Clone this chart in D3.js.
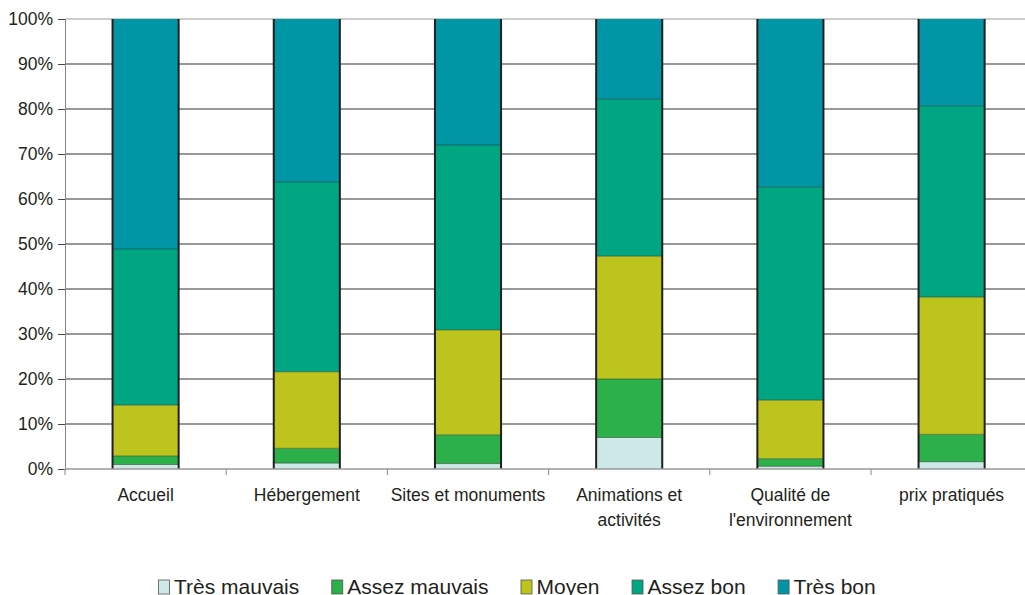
<!DOCTYPE html>
<html>
<head>
<meta charset="utf-8">
<script src="https://cdn.jsdelivr.net/npm/d3@7"></script>
<style>
	body { margin: 0; background: #fff; overflow: hidden; }
	text { font-family: "Liberation Sans", Arial, sans-serif; fill: #231f20; }
</style>
</head>
<body>
<div id="chart"></div>
<script>
// categories and series (percent of answers)
var categories = ["Accueil", "Hébergement", "Sites et monuments", "Animations et activités", "Qualité de l'environnement", "prix pratiqués"];
var categoryLines = [["Accueil"], ["Hébergement"], ["Sites et monuments"], ["Animations et", "activités"], ["Qualité de", "l'environnement"], ["prix pratiqués"]];
var seriesNames = ["Très mauvais", "Assez mauvais", "Moyen", "Assez bon", "Très bon"];
var seriesColors = ["#cce9e8", "#2bb04a", "#bdc41e", "#00a582", "#0096a6"];
var tresMauvais = [1.0, 1.3, 1.2, 7.0, 0.6, 1.6];
var assezMauvais = [1.9, 3.3, 6.4, 13.0, 1.7, 6.1];
var moyen = [11.3, 17.0, 23.3, 27.3, 13.0, 30.5];
var assezBon = [34.7, 42.2, 41.1, 34.9, 47.4, 42.5];
var tresBon = [51.1, 36.2, 28.0, 17.8, 37.3, 19.3];
var yTicks = [0, 10, 20, 30, 40, 50, 60, 70, 80, 90, 100];

var width = 1025, height = 595;
var margin = { left: 65, top: 19, bottom: 469 };

var rows = categories.map(function (c, i) {
	var total = tresMauvais[i] + assezMauvais[i] + moyen[i] + assezBon[i] + tresBon[i];
	return {
		cat: c,
		s0: tresMauvais[i] / total * 100,
		s1: assezMauvais[i] / total * 100,
		s2: moyen[i] / total * 100,
		s3: assezBon[i] / total * 100,
		s4: tresBon[i] / total * 100
	};
});
var stack = d3.stack().keys(["s0", "s1", "s2", "s3", "s4"])(rows);

var svg = d3.select("#chart").append("svg")
	.attr("width", width)
	.attr("height", height);

var x = d3.scaleBand().domain(categories).range([margin.left, margin.left + 6 * 161.2]).paddingInner(0.59).paddingOuter(0.295);
var y = d3.scaleLinear().domain([0, 100]).range([margin.bottom, margin.top]);

// gridlines
svg.append("g").selectAll("line").data(yTicks.slice(1)).enter().append("line")
	.attr("x1", margin.left).attr("x2", width)
	.attr("y1", function (d) { return y(d); }).attr("y2", function (d) { return y(d); })
	.attr("stroke", function (d) { return d == 100 ? "#999" : "#333"; })
	.attr("stroke-width", 1);

// bars
var layer = svg.append("g").selectAll("g").data(stack).enter().append("g")
	.attr("fill", function (d, i) { return seriesColors[i]; });
layer.selectAll("rect").data(function (d) { return d; }).enter().append("rect")
	.attr("x", function (d) { return x(d.data.cat); })
	.attr("y", function (d) { return y(d[1]); })
	.attr("width", x.bandwidth())
	.attr("height", function (d) { return y(d[0]) - y(d[1]); });

// dark bar sides and segment separators
var outline = svg.append("g");
categories.forEach(function (c) {
	[x(c), x(c) + x.bandwidth()].forEach(function (xx) {
		outline.append("line").attr("x1", xx).attr("x2", xx)
			.attr("y1", y(100)).attr("y2", y(0))
			.attr("stroke", "#231f20").attr("stroke-width", 2);
	});
});
stack.slice(0, 4).forEach(function (s) {
	outline.selectAll(null).data(s).enter().append("line")
		.attr("x1", function (d) { return x(d.data.cat); })
		.attr("x2", function (d) { return x(d.data.cat) + x.bandwidth(); })
		.attr("y1", function (d) { return y(d[1]); })
		.attr("y2", function (d) { return y(d[1]); })
		.attr("stroke", "#231f20").attr("stroke-opacity", 0.45).attr("stroke-width", 1);
});

// y axis
var yAxis = svg.append("g").attr("transform", "translate(" + margin.left + ",0)")
	.call(d3.axisLeft(y).tickValues(yTicks).tickSize(7).tickPadding(5).tickFormat(function (d) { return d + "%"; }));
yAxis.select(".domain").attr("stroke", "#888");
yAxis.selectAll(".tick line").attr("stroke", "#444");
yAxis.selectAll("text").attr("font-size", "17.5px").attr("font-family", "Liberation Sans, Arial, sans-serif").attr("fill", "#231f20");

// x axis line with ticks between categories
svg.append("line").attr("x1", margin.left).attr("x2", width)
	.attr("y1", y(0)).attr("y2", y(0)).attr("stroke", "#999").attr("stroke-width", 1.5);
svg.append("g").selectAll("line").data(categories).enter().append("line")
	.attr("x1", function (d) { return x(d) - x.step() * 0.295; })
	.attr("x2", function (d) { return x(d) - x.step() * 0.295; })
	.attr("y1", y(0)).attr("y2", y(0) + 6)
	.attr("stroke", "#888");

// category labels
var labels = svg.append("g").selectAll("text").data(categories).enter().append("text")
	.attr("text-anchor", "middle")
	.attr("font-size", "17.5px")
	.attr("y", 501);
labels.each(function (d, i) {
	var t = d3.select(this);
	categoryLines[i].forEach(function (line, k) {
		t.append("tspan").attr("x", x(d) + x.bandwidth() / 2).attr("dy", k == 0 ? 0 : 25).text(line);
	});
});

// legend
var legend = svg.append("g").attr("transform", "translate(158,0)");
var lx = 0;
seriesNames.forEach(function (name, i) {
	var g = legend.append("g").attr("transform", "translate(" + lx + ",0)");
	g.append("rect").attr("x", 0.5).attr("y", 580).attr("width", 11).attr("height", 14)
		.attr("fill", seriesColors[i]).attr("stroke", "#555").attr("stroke-width", 0.8);
	var t = g.append("text").attr("x", 16).attr("y", 594).attr("font-size", "21px").text(name);
	lx += 16 + t.node().getComputedTextLength() + 32;
});
</script>
</body>
</html>
